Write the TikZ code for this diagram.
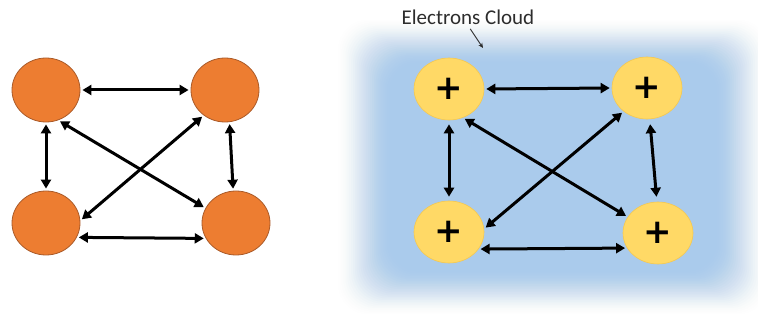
\documentclass[tikz,border=0pt]{standalone}
\usepackage{fontspec}
\newfontfamily\carlito{Carlito}
\newfontfamily\dejavu{DejaVu Sans}
\usetikzlibrary{shapes.geometric,arrows.meta}
\definecolor{orangefill}{RGB}{237,125,49}
\definecolor{orangeline}{RGB}{170,90,40}
\definecolor{goldfill}{RGB}{255,217,102}
\definecolor{goldline}{RGB}{245,200,80}
\definecolor{cloudblue}{RGB}{170,203,236}
\definecolor{labelgray}{RGB}{45,45,45}
\begin{document}
\begin{tikzpicture}[x=1pt,y=-1pt,
  orangenode/.style={ellipse, minimum width=68pt, minimum height=64pt, inner sep=0pt,
    fill=orangefill, draw=orangeline, line width=0.8pt},
  goldnode/.style={ellipse, minimum width=70pt, minimum height=62pt, inner sep=0pt,
    fill=goldfill, draw=goldline, line width=0.6pt,
    font=\dejavu\bfseries\fontsize{34}{34}\selectfont},
  link/.style={{Triangle[length=9pt,width=10pt]}-{Triangle[length=9pt,width=10pt]},
    line width=3pt, shorten <=2pt, shorten >=2pt},
  pointer/.style={-{Stealth[length=5pt,width=4.5pt]}, line width=0.9pt, draw=labelgray}
]
\useasboundingbox (0,0) rectangle (758,320);
\fill[white] (0,0) rectangle (758,320);

% electron cloud (soft-edged blue area)
\foreach \i in {1,...,30} {
  \pgfmathsetmacro\tA{(\i-1)/30}
  \pgfmathsetmacro\tB{\i/30}
  \pgfmathsetmacro\cA{\tA*\tA*(3-2*\tA)}
  \pgfmathsetmacro\cB{\tB*\tB*(3-2*\tB)}
  \pgfmathsetmacro\al{(\cB-\cA)/(1-\cA)}
  \fill[cloudblue, fill opacity=\al, rounded corners=30pt]
    ({336+1.9*\i},{18+1.6*\i}) rectangle ({770-1.9*\i},{316-1.6*\i});
}

% left diagram
\node[orangenode] (a) at (46,90) {};
\node[orangenode] (b) at (225,90) {};
\node[orangenode] (c) at (46,223) {};
\node[orangenode] (d) at (236,223) {};

\draw[link] (a.east) -- (b.west);
\draw[link] (a.south) -- (c.north);
\draw[link] (b.-82) -- (d.95);
\draw[link] (c.-25) -- (d.-153);
\draw[link] (a.-68) -- (d.154);
\draw[link] (b.-130) -- (c.4);

% right diagram
\node[goldnode] (p) at (449,89) {+};
\node[goldnode] (q) at (647,88) {+};
\node[goldnode] (r) at (449,232) {+};
\node[goldnode] (s) at (658,233) {+};

\draw[link] (p.east) -- (q.west);
\draw[link, shorten <=4pt, shorten >=4pt] (p.south) -- (r.north);
\draw[link, shorten <=5pt, shorten >=5pt] (q.-85) -- (s.92);
\draw[link] (r.-30) -- (s.-154);
\draw[link] (p.-64) -- (s.152);
\draw[link] (q.-135) -- (r.5);

% label
\node[font=\carlito\fontsize{21}{25}\selectfont, text=labelgray, inner sep=1pt] (lbl) at (468,17) {Electrons Cloud};
\coordinate (cloudtip) at (483,48);
\draw[pointer, shorten <=4pt] (lbl.south) -- (cloudtip);
\end{tikzpicture}
\end{document}
